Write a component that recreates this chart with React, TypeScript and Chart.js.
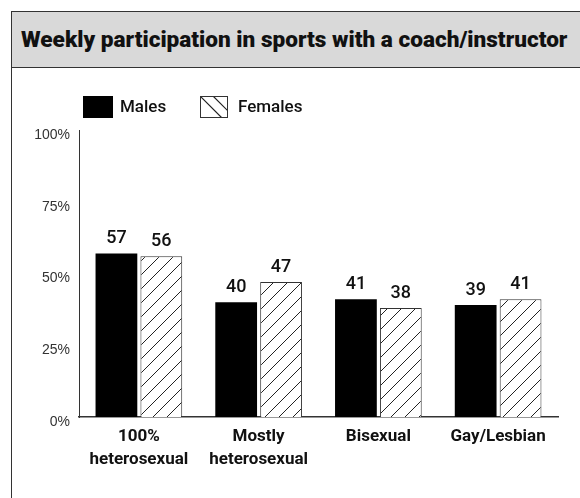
import React, { useEffect, useRef } from "react";
import { Chart, registerables } from "chart.js";

Chart.register(...registerables);

const titleText = "Weekly participation in sports with a coach/instructor";
const categories: (string | string[])[] = [
  ["100%", "heterosexual"],
  ["Mostly", "heterosexual"],
  "Bisexual",
  "Gay/Lesbian",
];
const seriesNames = ["Males", "Females"];
const males = [57, 40, 41, 39];
const females = [56, 47, 38, 41];
const yTickValues = [0, 25, 50, 75, 100];

const ROBOTO = "Roboto, 'Liberation Sans', sans-serif";

function makeHatch(): CanvasPattern | string {
  const s = 14;
  const c = document.createElement("canvas");
  c.width = s;
  c.height = s;
  const g = c.getContext("2d");
  if (!g) return "#fff";
  g.fillStyle = "#fff";
  g.fillRect(0, 0, s, s);
  g.strokeStyle = "#222";
  g.lineWidth = 1;
  g.beginPath();
  for (let k = -1; k <= 1; k++) {
    g.moveTo(k * s, s);
    g.lineTo(k * s + s, 0);
  }
  g.stroke();
  const p = g.createPattern(c, "repeat");
  return p || "#fff";
}

const valueLabels = {
  id: "valueLabels",
  afterDatasetsDraw(chart: any) {
    const ctx = chart.ctx;
    ctx.save();
    ctx.font = `500 18px ${ROBOTO}`;
    ctx.fillStyle = "#111";
    ctx.textAlign = "center";
    ctx.textBaseline = "alphabetic";
    chart.data.datasets.forEach((ds: any, i: number) => {
      const meta = chart.getDatasetMeta(i);
      meta.data.forEach((el: any, j: number) => {
        ctx.fillText(String(ds.data[j]), el.x, el.y - 10);
      });
    });
    ctx.restore();
  },
};

const customLegend = {
  id: "customLegend",
  afterDraw(chart: any) {
    const ctx = chart.ctx;
    const left = chart.chartArea.left + 4;
    const top = 28;
    ctx.save();
    ctx.fillStyle = "#000";
    ctx.fillRect(left, top, 30, 22);
    ctx.font = `500 17px ${ROBOTO}`;
    ctx.fillStyle = "#111";
    ctx.textBaseline = "middle";
    ctx.textAlign = "left";
    ctx.fillText(seriesNames[0], left + 37, top + 12);
    const fx = left + 117;
    const w = 28;
    const h = 22;
    ctx.fillStyle = "#fff";
    ctx.fillRect(fx, top, w, h);
    ctx.save();
    ctx.beginPath();
    ctx.rect(fx, top, w, h);
    ctx.clip();
    ctx.strokeStyle = "#222";
    ctx.lineWidth = 1.2;
    ctx.beginPath();
    for (const off of [0, 13]) {
      ctx.moveTo(fx + off, top);
      ctx.lineTo(fx + off + h, top + h);
    }
    ctx.stroke();
    ctx.restore();
    ctx.strokeStyle = "#333";
    ctx.lineWidth = 1;
    ctx.strokeRect(fx + 0.5, top + 0.5, w - 1, h - 1);
    ctx.fillStyle = "#111";
    ctx.fillText(seriesNames[1], fx + 38, top + 12);
    ctx.restore();
  },
};

export default function App() {
  const ref = useRef<HTMLCanvasElement | null>(null);

  useEffect(() => {
    if (!ref.current) return;
    const hatch = makeHatch();
    const chart = new Chart(ref.current, {
      type: "bar",
      data: {
        labels: categories,
        datasets: [
          {
            label: seriesNames[0],
            data: males,
            backgroundColor: "#000",
            borderColor: "#000",
            borderWidth: 0,
            categoryPercentage: 0.75,
            barPercentage: 0.93,
          },
          {
            label: seriesNames[1],
            data: females,
            backgroundColor: hatch as any,
            borderColor: "#333",
            borderWidth: 1,
            categoryPercentage: 0.75,
            barPercentage: 0.93,
          },
        ],
      },
      options: {
        responsive: false,
        animation: false,
        layout: { padding: { top: 62, right: 22, left: 0, bottom: 0 } },
        plugins: {
          legend: { display: false },
          tooltip: { enabled: false },
          title: { display: false },
        },
        scales: {
          x: {
            grid: { display: false },
            border: { display: true, color: "#333", width: 1.5 },
            ticks: {
              color: "#111",
              font: { family: ROBOTO, size: 17, weight: "bold", lineHeight: 1.35 },
              padding: 0,
              maxRotation: 0,
              autoSkip: false,
            },
            afterFit(scale: any) {
              scale.height = 81;
            },
          },
          y: {
            min: 0,
            max: 100,
            grid: { display: false, drawTicks: false },
            border: { display: true, color: "#333", width: 1 },
            afterBuildTicks(scale: any) {
              scale.ticks = yTickValues.map((v) => ({ value: v }));
            },
            ticks: {
              color: "#333",
              font: { family: "'Liberation Sans', Arial, sans-serif", size: 14 },
              padding: 9,
              labelOffset: 5,
              callback: (v: any) => `${v}%`,
            },
            afterFit(scale: any) {
              scale.width = 67;
            },
          },
        },
      },
      plugins: [valueLabels, customLegend],
    });
    return () => chart.destroy();
  }, []);

  return (
    <div
      style={{
        position: "absolute",
        left: 11,
        top: 11,
        width: 569,
        height: 487,
        borderLeft: "1px solid #333",
        borderTop: "1px solid #333",
        boxSizing: "border-box",
        overflow: "hidden",
        background: "#fff",
      }}
    >
      <div
        style={{
          height: 56,
          background: "#d9d9d9",
          borderBottom: "1px solid #333",
          boxSizing: "border-box",
          display: "flex",
          alignItems: "center",
          paddingLeft: 9,
          fontFamily: ROBOTO,
          fontWeight: 900,
          fontSize: 22.6,
          color: "#111",
          whiteSpace: "nowrap",
        }}
      >
        {titleText}
      </div>
      <canvas ref={ref} width={568} height={430} style={{ display: "block", width: 568, height: 430 }} />
    </div>
  );
}
